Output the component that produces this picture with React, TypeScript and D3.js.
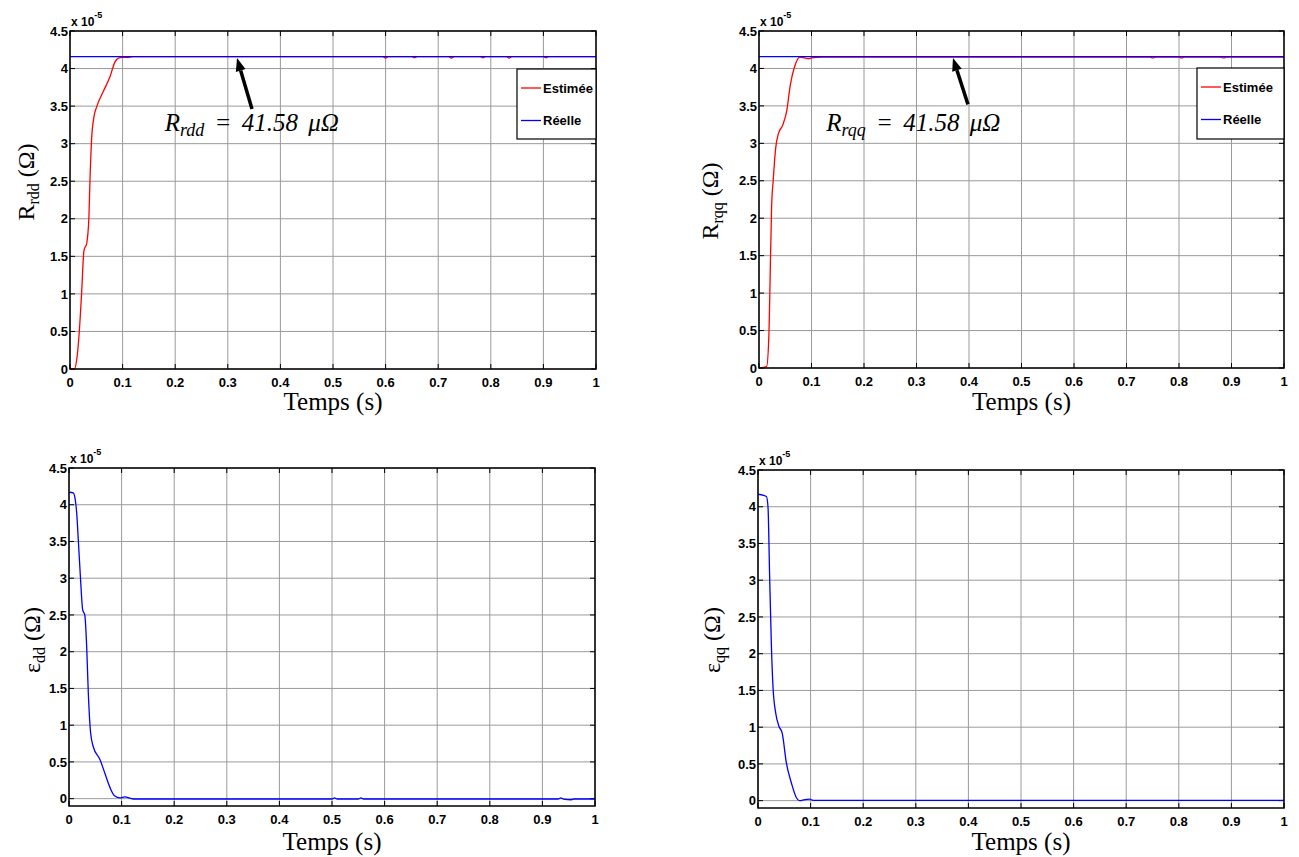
import React from 'react';
import * as d3 from 'd3';

const xTicks = [0, 0.1, 0.2, 0.3, 0.4, 0.5, 0.6, 0.7, 0.8, 0.9, 1];
const yTicks = [0, 0.5, 1, 1.5, 2, 2.5, 3, 3.5, 4, 4.5];
const xTickLabels = ['0', '0.1', '0.2', '0.3', '0.4', '0.5', '0.6', '0.7', '0.8', '0.9', '1'];
const yTickLabels = ['0', '0.5', '1', '1.5', '2', '2.5', '3', '3.5', '4', '4.5'];
const realValue = 4.158; // x 1e-5 Ohm (41.58 µΩ)
const legendLabels = ['Estimée', 'Réelle'];

// estimated R_rdd (x 1e-5)
const estRdd: [number, number][] = [
  [0, 0], [0.008, 0], [0.0127, 0.12], [0.0177, 0.5], [0.022, 1.0], [0.0266, 1.58], [0.0317, 1.67],
  [0.036, 2.03], [0.038, 2.52], [0.041, 3.05], [0.0456, 3.36], [0.0507, 3.49], [0.063, 3.69],
  [0.076, 3.89], [0.0856, 4.09], [0.095, 4.145], [0.11, 4.15], [0.12, 4.158], [0.3, 4.158],
  [0.595, 4.158], [0.6, 4.14], [0.605, 4.158], [0.65, 4.158], [0.655, 4.145], [0.66, 4.158],
  [0.72, 4.158], [0.725, 4.14], [0.73, 4.158], [0.78, 4.158], [0.785, 4.145], [0.79, 4.158],
  [0.83, 4.158], [0.835, 4.14], [0.84, 4.158], [0.9, 4.158], [0.905, 4.145], [0.91, 4.158], [1, 4.158],
];

// estimated R_rqq (x 1e-5)
const estRqq: [number, number][] = [
  [0, 0], [0.0146, 0.02], [0.019, 0.47], [0.021, 1.13], [0.024, 2.15], [0.027, 2.5], [0.032, 2.95],
  [0.037, 3.13], [0.045, 3.24], [0.053, 3.44], [0.059, 3.75], [0.0686, 4.04], [0.078, 4.15],
  [0.087, 4.14], [0.095, 4.13], [0.1, 4.14], [0.12, 4.15], [0.5, 4.15], [0.745, 4.15], [0.75, 4.14],
  [0.755, 4.15], [0.8, 4.15], [0.805, 4.14], [0.81, 4.15], [0.88, 4.15], [0.885, 4.14], [0.89, 4.15], [1, 4.15],
];

// error eps_dd (x 1e-5)
const errDd: [number, number][] = [
  [0, 4.17], [0.008, 4.16], [0.0114, 4.09], [0.0146, 3.89], [0.0177, 3.52], [0.022, 2.98], [0.026, 2.57],
  [0.03, 2.5], [0.0336, 2.07], [0.0367, 1.44], [0.041, 0.9], [0.046, 0.71], [0.059, 0.53], [0.068, 0.35],
  [0.078, 0.15], [0.087, 0.035], [0.097, 0.01], [0.106, 0.025], [0.122, -0.005], [0.5, -0.005],
  [0.505, 0.01], [0.51, -0.005], [0.55, -0.005], [0.555, 0.01], [0.56, -0.005], [0.93, -0.005],
  [0.935, 0.01], [0.94, -0.005], [0.955, -0.015], [0.96, -0.005], [1, -0.005],
];

// error eps_qq (x 1e-5)
const errQq: [number, number][] = [
  [0, 4.17], [0.016, 4.14], [0.019, 4.0], [0.022, 3.09], [0.0255, 2.1], [0.0285, 1.55], [0.0337, 1.19],
  [0.04, 1.01], [0.046, 0.92], [0.054, 0.51], [0.0635, 0.24], [0.073, 0.04], [0.079, 0.0], [0.089, 0.015],
  [0.098, 0.02], [0.105, 0.005], [0.12, 0.005], [1, 0.005],
];

const realSeries: [number, number][] = [[0, realValue], [1, realValue]];

type PanelProps = {
  left: number; right: number; top: number; bottom: number; yMin: number;
  series: { data: [number, number][]; color: string }[];
  legend?: { x0: number; x1: number; y0: number; y1: number };
  ylabelMain: string; ylabelSub: string; ylabelX: number; ylabelY: number;
  xlabelY: number;
  annotation?: { sub: string; tx: number; ty: number; ax0: number; ay0: number; ax1: number; ay1: number };
};

const TICK_FONT = '"Liberation Sans", Arial, sans-serif';
const SERIF = '"Liberation Serif", "Times New Roman", serif';

function Panel(p: PanelProps) {
  const x = d3.scaleLinear().domain([0, 1]).range([p.left, p.right]);
  const y = d3.scaleLinear().domain([p.yMin, 4.5]).range([p.bottom, p.top]);
  const line = d3.line<[number, number]>().x(d => x(d[0])).y(d => y(d[1])).curve(d3.curveMonotoneX);
  const tl = 5;
  let arrow = null as any;
  if (p.annotation) {
    const a = p.annotation;
    const x0 = x(a.ax0), y0 = y(a.ay0), x1 = x(a.ax1), y1 = y(a.ay1);
    const ang = Math.atan2(y1 - y0, x1 - x0);
    const hl = 13, hw = 5;
    const bx = x1 - hl * Math.cos(ang), by = y1 - hl * Math.sin(ang);
    const px = -Math.sin(ang) * hw, py = Math.cos(ang) * hw;
    arrow = (
      <g>
        <line x1={x0} y1={y0} x2={bx} y2={by} stroke="#000" strokeWidth={3.5} />
        <polygon points={`${x1},${y1} ${bx + px},${by + py} ${bx - px},${by - py}`} fill="#000" />
        <text x={x(a.tx)} y={y(a.ty)} fontFamily={SERIF} fontStyle="italic" fontSize={25} wordSpacing={4}>
          R<tspan fontSize={18} dy={5}>{a.sub}</tspan><tspan dy={-5}>{' = 41.58 μΩ'}</tspan>
        </text>
      </g>
    );
  }
  const cx = (p.left + p.right) / 2;
  return (
    <g>
      {xTicks.map((t, i) => (
        <line key={'gx' + i} x1={x(t)} x2={x(t)} y1={p.top} y2={p.bottom} stroke="#9a9a9a" strokeWidth={1} />
      ))}
      {yTicks.map((t, i) => (
        <line key={'gy' + i} x1={p.left} x2={p.right} y1={y(t)} y2={y(t)} stroke="#9a9a9a" strokeWidth={1} />
      ))}
      {xTicks.map((t, i) => (
        <g key={'tx' + i}>
          <line x1={x(t)} x2={x(t)} y1={p.bottom} y2={p.bottom - tl} stroke="#000" />
          <line x1={x(t)} x2={x(t)} y1={p.top} y2={p.top + tl} stroke="#000" />
          <text x={x(t)} y={p.bottom + 18} textAnchor="middle" fontFamily={TICK_FONT} fontWeight="bold" fontSize={13}>{xTickLabels[i]}</text>
        </g>
      ))}
      {yTicks.map((t, i) => (
        <g key={'ty' + i}>
          <line x1={p.left} x2={p.left + tl} y1={y(t)} y2={y(t)} stroke="#000" />
          <line x1={p.right} x2={p.right - tl} y1={y(t)} y2={y(t)} stroke="#000" />
          <text x={p.left - 2} y={y(t)} dy="0.36em" textAnchor="end" fontFamily={TICK_FONT} fontWeight="bold" fontSize={13}>{yTickLabels[i]}</text>
        </g>
      ))}
      {p.series.map((s, i) => (
        <path key={'s' + i} d={line(s.data) || ''} fill="none" stroke={s.color} strokeWidth={1.3} />
      ))}
      <rect x={p.left} y={p.top} width={p.right - p.left} height={p.bottom - p.top} fill="none" stroke="#000" strokeWidth={1.5} />
      <text x={p.left + 1} y={p.top - 5} fontFamily={TICK_FONT} fontWeight="bold" fontSize={12}>
        x 10<tspan fontSize={9} dy={-8}>-5</tspan>
      </text>
      {p.legend && (
        <g>
          <rect x={p.legend.x0} y={p.legend.y0} width={p.legend.x1 - p.legend.x0} height={p.legend.y1 - p.legend.y0} fill="#fff" stroke="#000" strokeWidth={1.2} />
          {legendLabels.map((lab, i) => {
            const ly = p.legend!.y0 + 19 + i * 32.5;
            return (
              <g key={'lg' + i}>
                <line x1={p.legend!.x0 + 4} x2={p.legend!.x0 + 24} y1={ly} y2={ly} stroke={i === 0 ? '#ff0000' : '#0000ff'} strokeWidth={1.3} />
                <text x={p.legend!.x0 + 26} y={ly} dy="0.36em" fontFamily={TICK_FONT} fontWeight="bold" fontSize={13}>{lab}</text>
              </g>
            );
          })}
        </g>
      )}
      {arrow}
      <text x={cx} y={p.xlabelY} textAnchor="middle" fontFamily={SERIF} fontSize={25}>Temps (s)</text>
      <text transform={`translate(${p.ylabelX},${p.ylabelY}) rotate(-90)`} textAnchor="middle" fontFamily={SERIF} fontSize={24}>
        {p.ylabelMain}<tspan fontSize={16} dy={5}>{p.ylabelSub}</tspan><tspan dy={-5}>{' (Ω)'}</tspan>
      </text>
    </g>
  );
}

export default function App() {
  return (
    <svg width={1299} height={857} style={{ position: 'absolute', left: 0, top: 0, background: '#fff' }}>
      <rect x={0} y={0} width={1299} height={857} fill="#fff" />
      <Panel left={70} right={596} top={31} bottom={369} yMin={0}
        series={[{ data: estRdd, color: '#ff0000' }, { data: realSeries, color: '#0000ff' }]}
        legend={{ x0: 517, x1: 596, y0: 69, y1: 139 }}
        ylabelMain="R" ylabelSub="rdd" ylabelX={34} ylabelY={182} xlabelY={410}
        annotation={{ sub: 'rdd', tx: 0.18, ty: 3.17, ax0: 0.346, ay0: 3.46, ax1: 0.3175, ay1: 4.14 }} />
      <Panel left={759} right={1284} top={31} bottom={368} yMin={0}
        series={[{ data: estRqq, color: '#ff0000' }, { data: realSeries, color: '#0000ff' }]}
        legend={{ x0: 1197, x1: 1284, y0: 68, y1: 139 }}
        ylabelMain="R" ylabelSub="rqq" ylabelX={718} ylabelY={201} xlabelY={410}
        annotation={{ sub: 'rqq', tx: 0.128, ty: 3.17, ax0: 0.398, ay0: 3.52, ax1: 0.3695, ay1: 4.14 }} />
      <Panel left={69} right={595} top={468} bottom={806} yMin={-0.1}
        series={[{ data: errDd, color: '#0000ff' }]}
        ylabelMain="ε" ylabelSub="dd" ylabelX={40} ylabelY={640} xlabelY={850} />
      <Panel left={758} right={1284} top={470} bottom={808} yMin={-0.1}
        series={[{ data: errQq, color: '#0000ff' }]}
        ylabelMain="ε" ylabelSub="qq" ylabelX={720} ylabelY={640} xlabelY={850} />
    </svg>
  );
}
